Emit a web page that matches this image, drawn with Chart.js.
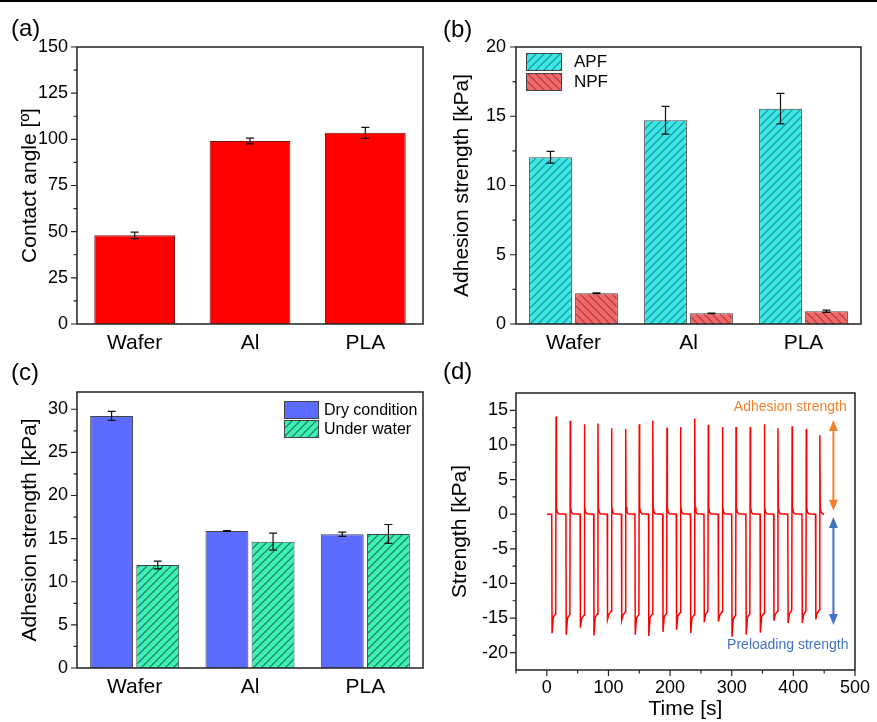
<!DOCTYPE html>
<html><head><meta charset="utf-8">
<script src="https://cdn.jsdelivr.net/npm/chart.js@4.4.0/dist/chart.umd.min.js"></script>
<style>
html,body{margin:0;padding:0;background:#fff;width:877px;height:722px;overflow:hidden;}
#topline{position:absolute;left:0;top:0;width:877px;height:2px;background:#000;}
canvas{position:absolute;}
.lbl{position:absolute;font-family:'Liberation Sans',Arial,sans-serif;font-size:24px;color:#000;line-height:1;}
</style></head><body>
<div id="topline"></div>
<canvas id="ca" width="438" height="361" style="left:0;top:0"></canvas>
<canvas id="cb" width="439" height="361" style="left:438px;top:0"></canvas>
<canvas id="cc" width="438" height="361" style="left:0;top:361px"></canvas>
<canvas id="cd" width="439" height="361" style="left:438px;top:361px"></canvas>
<div class="lbl" style="left:11px;top:16px">(a)</div>
<div class="lbl" style="left:443px;top:17px">(b)</div>
<div class="lbl" style="left:11px;top:360px">(c)</div>
<div class="lbl" style="left:443px;top:359px">(d)</div>
<script>
// ---------- data ----------
const categories = ['Wafer', 'Al', 'PLA'];

const contactAngle    = [48.0, 99.1, 103.5];
const contactAngleErr = [1.8, 1.6, 3.0];

const apfStrength = [12.04, 14.71, 15.55];
const apfErr      = [0.42, 1.0, 1.1];
const npfStrength = [2.22, 0.77, 0.92];
const npfErr      = [0.03, 0.02, 0.08];

const dryStrength   = [29.23, 15.89, 15.5];
const dryErr        = [0.53, 0.05, 0.25];
const waterStrength = [11.95, 14.65, 15.54];
const waterErr      = [0.45, 0.98, 1.1];

// panel (d): one entry per loading cycle
const dropTimes      = [8, 31, 54, 76, 98, 121, 143, 165, 188, 210, 233, 255, 278, 300, 323, 346, 368, 391, 414, 436];
const troughValues   = [-17.2, -17.4, -16.4, -17.5, -15.2, -15.3, -17.4, -17.6, -17.0, -16.7, -17.2, -15.6, -15.5, -17.7, -17.4, -17.1, -15.4, -15.7, -15.7, -15.2];
const shoulderValues = [-14.4, -14.5, -14.6, -14.4, -14.0, -14.1, -14.5, -14.4, -14.3, -14.2, -14.5, -14.0, -14.1, -14.6, -14.4, -14.3, -14.0, -13.9, -14.0, -13.8];
const peakTimes      = [15, 38, 61, 83, 105, 128, 150, 172, 195, 217, 240, 262, 285, 307, 330, 353, 375, 398, 421, 443];
const peakValues     = [14.1, 13.5, 13.0, 13.1, 12.4, 12.3, 13.0, 13.5, 12.5, 12.6, 13.8, 12.9, 12.6, 12.6, 12.6, 13.0, 12.4, 12.7, 12.3, 11.4];
const traceStart = 0, traceEnd = 450;

// tick labels
const yTicksA = [0, 25, 50, 75, 100, 125, 150];
const yTicksB = [0, 5, 10, 15, 20];
const yTicksC = [0, 5, 10, 15, 20, 25, 30];
const yTicksD = [-20, -15, -10, -5, 0, 5, 10, 15];
const xTicksD = [0, 100, 200, 300, 400, 500];
const minorA = [12.5, 37.5, 62.5, 87.5, 112.5, 137.5];
const minorB = [2.5, 7.5, 12.5, 17.5];
const minorC = [2.5, 7.5, 12.5, 17.5, 22.5, 27.5];
const minorDy = [-17.5, -12.5, -7.5, -2.5, 2.5, 7.5, 12.5];
const minorDx = [-50, 50, 150, 250, 350, 450];

// ---------- setup ----------
const FONT = "'Liberation Sans', Arial, sans-serif";
Chart.defaults.font.family = FONT;
Chart.defaults.color = '#000';

function hatch(canvasId, bg, fg, dir) {
  const s = 8;
  const c = document.createElement('canvas'); c.width = s; c.height = s;
  const g = c.getContext('2d');
  g.fillStyle = bg; g.fillRect(0, 0, s, s);
  g.strokeStyle = fg; g.lineWidth = 1.1;
  g.beginPath();
  if (dir === '/') {
    g.moveTo(-1, s + 1); g.lineTo(s + 1, -1);
    g.moveTo(-1, 1); g.lineTo(1, -1);
    g.moveTo(s - 1, s + 1); g.lineTo(s + 1, s - 1);
  } else {
    g.moveTo(-1, -1); g.lineTo(s + 1, s + 1);
    g.moveTo(s - 1, -1); g.lineTo(s + 1, 1);
    g.moveTo(-1, s - 1); g.lineTo(1, s + 1);
  }
  g.stroke();
  return document.getElementById(canvasId).getContext('2d').createPattern(c, 'repeat');
}

const deco = {
  id: 'deco',
  afterDatasetsDraw(chart, args, o) {
    const ctx = chart.ctx;
    chart.data.datasets.forEach((ds, i) => {
      if (!ds.errors) return;
      const meta = chart.getDatasetMeta(i);
      const ys = chart.scales[meta.yAxisID];
      meta.data.forEach((el, j) => {
        const v = ds.data[j], e = ds.errors[j];
        const y1 = ys.getPixelForValue(v + e), y2 = ys.getPixelForValue(v - e);
        ctx.save(); ctx.strokeStyle = '#111'; ctx.lineWidth = 1.2; ctx.beginPath();
        ctx.moveTo(el.x, y1); ctx.lineTo(el.x, y2);
        ctx.moveTo(el.x - 4, y1); ctx.lineTo(el.x + 4, y1);
        ctx.moveTo(el.x - 4, y2); ctx.lineTo(el.x + 4, y2);
        ctx.stroke(); ctx.restore();
      });
    });
  },
  afterDraw(chart, args, o) {
    const ctx = chart.ctx, a = chart.chartArea;
    ctx.save();
    ctx.strokeStyle = '#222'; ctx.lineWidth = 1.5;
    ctx.strokeRect(a.left, a.top, a.right - a.left, a.bottom - a.top);
    ctx.lineWidth = 1.2;
    ctx.beginPath();
    const ys = chart.scales.y;
    ys.ticks.forEach(t => { const p = ys.getPixelForValue(t.value); ctx.moveTo(a.left, p); ctx.lineTo(a.left - 6, p); });
    (o.minorY || []).forEach(v => { const p = ys.getPixelForValue(v); ctx.moveTo(a.left, p); ctx.lineTo(a.left - 3.5, p); });
    if (o.xTicks) {
      const xs = chart.scales.x;
      xs.ticks.forEach(t => { const p = xs.getPixelForValue(t.value); ctx.moveTo(p, a.bottom); ctx.lineTo(p, a.bottom + 6); });
      (o.minorX || []).forEach(v => { const p = xs.getPixelForValue(v); ctx.moveTo(p, a.bottom); ctx.lineTo(p, a.bottom + 3.5); });
    }
    ctx.stroke();
    if (o.legend) {
      const L = o.legend;
      const x0 = L.fromRight != null ? a.right - L.fromRight : a.left + L.fromLeft;
      let y = a.top + L.top;
      L.items.forEach(i => {
        const ds = chart.data.datasets[i];
        ctx.fillStyle = ds.backgroundColor; ctx.fillRect(x0, y, L.w, L.h);
        ctx.strokeStyle = '#444'; ctx.lineWidth = 1; ctx.strokeRect(x0 + 0.5, y + 0.5, L.w, L.h);
        ctx.fillStyle = '#000'; ctx.font = L.size + 'px ' + FONT;
        ctx.textBaseline = 'middle'; ctx.textAlign = 'left';
        ctx.fillText(ds.label, x0 + L.w + L.textGap, y + L.h / 2 + 1);
        y += L.h + L.gap;
      });
    }
    if (o.arrows) {
      const xs = chart.scales.x;
      o.arrows.forEach(ar => {
        const x = xs.getPixelForValue(ar.x);
        const yTop = ys.getPixelForValue(ar.to), yBot = ys.getPixelForValue(ar.from);
        ctx.strokeStyle = ar.color; ctx.fillStyle = ar.color; ctx.lineWidth = 2;
        ctx.beginPath(); ctx.moveTo(x, yTop + 8); ctx.lineTo(x, yBot - 8); ctx.stroke();
        ctx.beginPath(); ctx.moveTo(x, yTop); ctx.lineTo(x - 4.5, yTop + 11); ctx.lineTo(x + 4.5, yTop + 11); ctx.closePath(); ctx.fill();
        ctx.beginPath(); ctx.moveTo(x, yBot); ctx.lineTo(x - 4.5, yBot - 11); ctx.lineTo(x + 4.5, yBot - 11); ctx.closePath(); ctx.fill();
      });
    }
    if (o.texts) {
      const xs = chart.scales.x;
      o.texts.forEach(t => {
        ctx.fillStyle = t.color; ctx.font = '14px ' + FONT;
        ctx.textAlign = 'center'; ctx.textBaseline = 'middle';
        ctx.fillText(t.text, xs.getPixelForValue(t.x), ys.getPixelForValue(t.y));
      });
    }
    ctx.restore();
  }
};

function catX(h) {
  return {
    grid: { display: false, drawTicks: false }, border: { display: false },
    ticks: { font: { size: 21 }, padding: 7, color: '#000', maxRotation: 0, autoSkip: false },
    afterFit: s => { s.height = h; }
  };
}
function linY(min, max, tickVals, title, titlePad, w, pad) {
  return {
    type: 'linear', min: min, max: max,
    afterBuildTicks: s => { s.ticks = tickVals.map(v => ({ value: v })); },
    grid: { display: false, drawTicks: false }, border: { display: false },
    ticks: { font: { size: 18 }, padding: pad, color: '#000' },
    title: { display: true, text: title, font: { size: 21 }, padding: { top: titlePad, bottom: 0 }, color: '#000' },
    afterFit: s => { s.width = w; }
  };
}
const base = { responsive: false, animation: false, devicePixelRatio: 1 };

// (a)
new Chart(document.getElementById('ca'), {
  type: 'bar',
  data: { labels: categories, datasets: [{
    label: 'Contact angle', data: contactAngle, errors: contactAngleErr,
    backgroundColor: '#FF0000', borderColor: '#7a1010', borderWidth: 1,
    categoryPercentage: 0.7, barPercentage: 1
  }]},
  options: Object.assign({}, base, {
    layout: { padding: { left: 0, top: 47, right: 15, bottom: 0 } },
    plugins: { legend: { display: false }, tooltip: { enabled: false }, deco: { minorY: minorA } },
    scales: { x: catX(37), y: linY(0, 150, yTicksA, 'Contact angle [º]', 18, 77, 9) }
  }),
  plugins: [deco]
});

// (b)
new Chart(document.getElementById('cb'), {
  type: 'bar',
  data: { labels: categories, datasets: [
    { label: 'APF', data: apfStrength, errors: apfErr, backgroundColor: hatch('cb', '#3AE6E6', '#1C8C8C', '/'),
      borderColor: '#444', borderWidth: 1, categoryPercentage: 0.8, barPercentage: 0.93 },
    { label: 'NPF', data: npfStrength, errors: npfErr, backgroundColor: hatch('cb', '#F26868', '#A33C3C', '\\'),
      borderColor: '#444', borderWidth: 1, categoryPercentage: 0.8, barPercentage: 0.93 }
  ]},
  options: Object.assign({}, base, {
    layout: { padding: { left: 0, top: 47, right: 16, bottom: 0 } },
    plugins: { legend: { display: false }, tooltip: { enabled: false },
      deco: { minorY: minorB, legend: { fromLeft: 10, top: 6, w: 35, h: 17, gap: 3, textGap: 13, size: 17, items: [0, 1] } } },
    scales: { x: catX(37), y: linY(0, 20, yTicksB, 'Adhesion strength [kPa]', 12, 78, 10) }
  }),
  plugins: [deco]
});

// (c)
new Chart(document.getElementById('cc'), {
  type: 'bar',
  data: { labels: categories, datasets: [
    { label: 'Dry condition', data: dryStrength, errors: dryErr, backgroundColor: '#5C6CFF',
      borderColor: '#444', borderWidth: 1, categoryPercentage: 0.8, barPercentage: 0.93 },
    { label: 'Under water', data: waterStrength, errors: waterErr, backgroundColor: hatch('cc', '#3DF0B6', '#1A6E52', '/'),
      borderColor: '#444', borderWidth: 1, categoryPercentage: 0.8, barPercentage: 0.93 }
  ]},
  options: Object.assign({}, base, {
    layout: { padding: { left: 0, top: 31, right: 15, bottom: 0 } },
    plugins: { legend: { display: false }, tooltip: { enabled: false },
      deco: { minorY: minorC, legend: { fromRight: 139, top: 9, w: 34, h: 17, gap: 2, textGap: 6, size: 16, items: [0, 1] } } },
    scales: { x: catX(54), y: linY(0, 32, yTicksC, 'Adhesion strength [kPa]', 18, 77, 9) }
  }),
  plugins: [deco]
});

// (d)
const tracePoints = [{ x: traceStart, y: 0 }];
for (let k = 0; k < peakTimes.length; k++) {
  const d = dropTimes[k], p = peakTimes[k];
  tracePoints.push(
    { x: d, y: 0 },
    { x: d + 0.5, y: troughValues[k] },
    { x: d + 2.5, y: shoulderValues[k] - 0.5 },
    { x: p - 0.6, y: shoulderValues[k] },
    { x: p, y: peakValues[k] },
    { x: p + 0.6, y: 1.0 },
    { x: p + 2, y: 0.3 },
    { x: p + 4, y: 0.05 }
  );
}
tracePoints.push({ x: traceEnd, y: 0 });

new Chart(document.getElementById('cd'), {
  type: 'line',
  data: { datasets: [{ label: 'Strength', data: tracePoints, borderColor: '#FF0000', borderWidth: 1.5,
    pointRadius: 0, tension: 0, fill: false }] },
  options: Object.assign({}, base, {
    layout: { padding: { left: 0, top: 32, right: 16, bottom: 0 } },
    plugins: { legend: { display: false }, tooltip: { enabled: false },
      deco: { minorY: minorDy, xTicks: true, minorX: minorDx,
        arrows: [ { x: 465, from: 0.5, to: 13.6, color: '#F0802E' }, { x: 465, from: -16.0, to: -0.4, color: '#4472C4' } ],
        texts: [ { x: 395, y: 15.5, text: 'Adhesion strength', color: '#F0802E' }, { x: 391, y: -18.85, text: 'Preloading strength', color: '#4472C4' } ] } },
    scales: {
      x: { type: 'linear', min: -50, max: 500,
        afterBuildTicks: s => { s.ticks = xTicksD.map(v => ({ value: v })); },
        grid: { display: false, drawTicks: false }, border: { display: false },
        ticks: { font: { size: 18 }, padding: 7, color: '#000', maxRotation: 0 },
        title: { display: true, text: 'Time [s]', font: { size: 21 }, padding: { top: 0, bottom: 0 }, color: '#000' },
        afterFit: s => { s.height = 52; } },
      y: linY(-22.5, 17.5, yTicksD, 'Strength [kPa]', 10, 78, 8)
    }
  }),
  plugins: [deco]
});
</script>
</body></html>
